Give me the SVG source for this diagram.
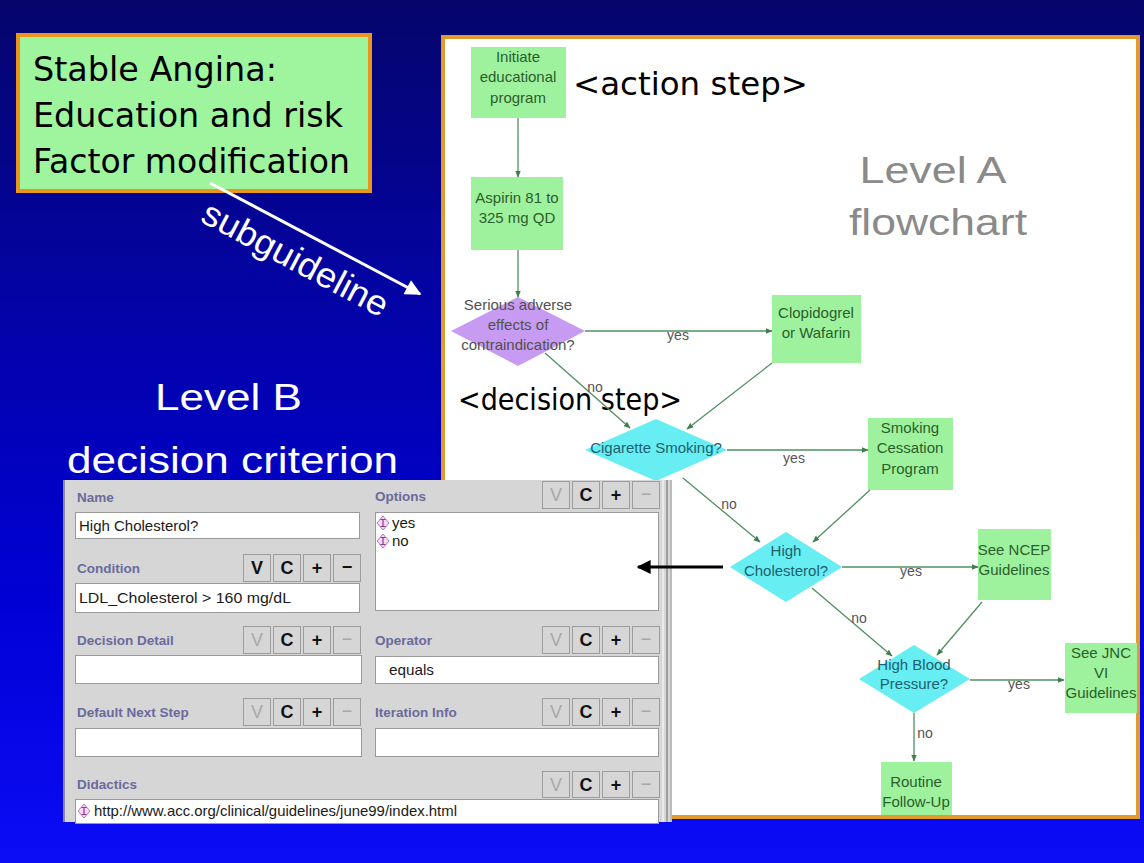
<svg xmlns="http://www.w3.org/2000/svg" width="1144" height="863" viewBox="0 0 1144 863">
<defs>
<linearGradient id="bg" x1="0" y1="0" x2="0" y2="1">
<stop offset="0" stop-color="#05056b"/>
<stop offset="0.35" stop-color="#0303a6"/>
<stop offset="0.7" stop-color="#0000d6"/>
<stop offset="1" stop-color="#0c0cf6"/>
</linearGradient>
<marker id="ag" viewBox="0 0 10 10" refX="9" refY="5" markerWidth="7" markerHeight="7" orient="auto" markerUnits="userSpaceOnUse">
<path d="M0,1 L10,5 L0,9 z" fill="#3f7f4f"/>
</marker>
<marker id="ab" viewBox="0 0 10 10" refX="9" refY="5" markerWidth="16" markerHeight="14" orient="auto" markerUnits="userSpaceOnUse">
<path d="M0,0 L10,5 L0,10 z" fill="#000"/>
</marker>
<marker id="aw" viewBox="0 0 10 10" refX="9" refY="5" markerWidth="20" markerHeight="16" orient="auto" markerUnits="userSpaceOnUse">
<path d="M0,0 L10,5 L0,10 z" fill="#fff"/>
</marker>
<style>
.box{fill:#9ef29e}
.nt{font-family:"Liberation Sans",Arial,sans-serif;font-size:15px;fill:#2b5e2b;text-anchor:middle}
.dt{font-family:"Liberation Sans",Arial,sans-serif;font-size:15px;fill:#1f5f6f;text-anchor:middle}
.pt{font-family:"Liberation Sans",Arial,sans-serif;font-size:15px;fill:#505050;text-anchor:middle}
.cl{font-family:"Liberation Sans",Arial,sans-serif;font-size:14px;fill:#555;text-anchor:middle}
.con{fill:none;stroke:#4f8f5f;stroke-width:1.3;marker-end:url(#ag)}
.big{font-family:"DejaVu Sans",Verdana,sans-serif;fill:#000}
.lab{font-family:"Liberation Sans",Arial,sans-serif;font-size:13.5px;font-weight:bold;fill:#6a6a9c}
.fld{fill:#fff;stroke:#9a9a9a;stroke-width:1}
.ft{font-family:"Liberation Sans",Arial,sans-serif;font-size:15px;fill:#1a1a1a}
.btn{fill:#d6d6d6;stroke:#9c9c9c;stroke-width:1}
.bon{font-family:"Liberation Sans",Arial,sans-serif;font-size:18px;font-weight:bold;fill:#111;text-anchor:middle}
.boff{font-family:"Liberation Sans",Arial,sans-serif;font-size:18px;fill:#a8a8a8;text-anchor:middle}
.ico{fill:#f3dcf3;stroke:#c070c0;stroke-width:1}
.icl{stroke:#8a3a8a;stroke-width:1.2;fill:none}
</style>
</defs>
<rect x="0" y="0" width="1144" height="863" fill="url(#bg)"/>

<!-- Title box -->
<g id="title">
<rect x="18" y="35" width="352" height="156" fill="#9ef59e" stroke="#e8961e" stroke-width="4"/>
<text class="big" x="33" y="81" font-size="33.5" fill="#0d200d" textLength="244" lengthAdjust="spacingAndGlyphs">Stable Angina:</text>
<text class="big" x="33" y="127" font-size="33.5" fill="#0d200d" textLength="310" lengthAdjust="spacingAndGlyphs">Education and risk</text>
<text class="big" x="33" y="173" font-size="33.5" fill="#0d200d" textLength="317" lengthAdjust="spacingAndGlyphs">Factor modification</text>
</g>

<!-- subguideline arrow -->
<g id="subguideline">
<line x1="210" y1="183" x2="420" y2="294" stroke="#fff" stroke-width="3" marker-end="url(#aw)"/>
<text transform="translate(199,221) rotate(28)" font-family="Liberation Sans, Arial, sans-serif" font-size="35" fill="#fff" textLength="206" lengthAdjust="spacingAndGlyphs">subguideline</text>
</g>

<!-- Level B caption -->
<g id="levelB-caption" font-family="Liberation Sans, Arial, sans-serif" fill="#fff">
<text x="155" y="410" font-size="37" textLength="147" lengthAdjust="spacingAndGlyphs">Level B</text>
<text x="67" y="473" font-size="37" textLength="331" lengthAdjust="spacingAndGlyphs">decision criterion</text>
</g>

<!-- Flowchart panel -->
<g id="flowchart-panel">
<rect x="443" y="37" width="695" height="780" fill="#fff" stroke="#e39a2c" stroke-width="4"/>
<text x="933" y="183" font-family="Liberation Sans, Arial, sans-serif" font-size="37" fill="#8a8a8a" text-anchor="middle" textLength="147" lengthAdjust="spacingAndGlyphs">Level A</text>
<text x="938" y="235" font-family="Liberation Sans, Arial, sans-serif" font-size="37" fill="#8a8a8a" text-anchor="middle" textLength="178" lengthAdjust="spacingAndGlyphs">flowchart</text>
<text class="big" x="573" y="95" font-size="32" textLength="235" lengthAdjust="spacingAndGlyphs">&lt;action step&gt;</text>
</g>

<!-- Nodes -->
<g id="n-initiate">
<rect class="box" x="471" y="47" width="95" height="71"/>
<text class="nt" x="518" y="62">Initiate</text>
<text class="nt" x="518" y="82">educational</text>
<text class="nt" x="518" y="103">program</text>
</g>
<g id="n-aspirin">
<rect class="box" x="471" y="177" width="92" height="73"/>
<text class="nt" x="517" y="203">Aspirin 81 to</text>
<text class="nt" x="517" y="223">325 mg QD</text>
</g>
<g id="n-serious">
<polygon points="518,297 585,331 518,366 451,331" fill="#c79bf2"/>
<text class="pt" x="518" y="310">Serious adverse</text>
<text class="pt" x="518" y="330">effects of</text>
<text class="pt" x="518" y="350">contraindication?</text>
</g>
<g id="n-clopidogrel">
<rect class="box" x="772" y="295" width="89" height="68"/>
<text class="nt" x="816" y="318">Clopidogrel</text>
<text class="nt" x="816" y="338">or Wafarin</text>
</g>
<text class="big" x="458" y="410" font-size="31" textLength="224" lengthAdjust="spacingAndGlyphs">&lt;decision step&gt;</text>
<g id="n-cigarette">
<polygon points="656,419 727,450 656,481 585,450" fill="#66eef2"/>
<text class="dt" x="656" y="453">Cigarette Smoking?</text>
</g>
<g id="n-cessation">
<rect class="box" x="868" y="418" width="85" height="72"/>
<text class="nt" x="910" y="433">Smoking</text>
<text class="nt" x="910" y="453">Cessation</text>
<text class="nt" x="910" y="474">Program</text>
</g>
<g id="n-cholesterol">
<polygon points="786,532 842,567 786,602 730,567" fill="#66eef2"/>
<text class="dt" x="786" y="556">High</text>
<text class="dt" x="786" y="576">Cholesterol?</text>
</g>
<g id="n-ncep">
<rect class="box" x="978" y="529" width="73" height="71"/>
<text class="nt" x="1014" y="555">See NCEP</text>
<text class="nt" x="1014" y="575">Guidelines</text>
</g>
<g id="n-hbp">
<polygon points="914,645 970,679 914,713 859,679" fill="#66eef2"/>
<text class="dt" x="914" y="670">High Blood</text>
<text class="dt" x="914" y="689">Pressure?</text>
</g>
<g id="n-jnc">
<rect class="box" x="1065" y="643" width="72" height="70"/>
<text class="nt" x="1101" y="658">See JNC</text>
<text class="nt" x="1101" y="678">VI</text>
<text class="nt" x="1101" y="698">Guidelines</text>
</g>
<g id="n-routine">
<rect class="box" x="881" y="762" width="71" height="53"/>
<text class="nt" x="916" y="787">Routine</text>
<text class="nt" x="916" y="807">Follow-Up</text>
</g>

<!-- Level B panel -->
<g id="levelB-panel">
<rect x="63" y="480" width="609" height="342" fill="#d6d6d6"/>
<line x1="64" y1="480" x2="64" y2="822" stroke="#8a8a9a" stroke-width="2"/>
<line x1="663" y1="480" x2="663" y2="822" stroke="#f0f0f0" stroke-width="1.5"/>
<line x1="667" y1="480" x2="667" y2="822" stroke="#8c8c8c" stroke-width="1.5"/>
<line x1="671" y1="480" x2="671" y2="822" stroke="#a0a0a0" stroke-width="1"/>

<text class="lab" x="77" y="502">Name</text>
<text class="lab" x="375" y="501">Options</text>
<text class="lab" x="77" y="573">Condition</text>
<text class="lab" x="77" y="645">Decision Detail</text>
<text class="lab" x="375" y="645">Operator</text>
<text class="lab" x="77" y="717">Default Next Step</text>
<text class="lab" x="375" y="717">Iteration Info</text>
<text class="lab" x="77" y="789">Didactics</text>

<rect class="fld" x="75.5" y="512.5" width="284" height="26"/>
<text class="ft" x="79" y="531">High Cholesterol?</text>
<rect class="fld" x="75.5" y="583.5" width="284" height="29"/>
<text class="ft" x="79" y="603" textLength="212" lengthAdjust="spacingAndGlyphs">LDL_Cholesterol &gt; 160 mg/dL</text>
<rect class="fld" x="75.5" y="655.5" width="286" height="28"/>
<rect class="fld" x="75.5" y="728.5" width="286" height="28"/>
<rect class="fld" x="75.5" y="799.5" width="583" height="24"/>
<rect class="fld" x="375.5" y="512.5" width="283" height="98"/>
<rect class="fld" x="375.5" y="656.5" width="283" height="27"/>
<text class="ft" x="389" y="675" textLength="45" lengthAdjust="spacingAndGlyphs">equals</text>
<rect class="fld" x="375.5" y="728.5" width="283" height="28"/>

<g id="icon-yes">
<polygon class="ico" points="383,516 389,523 383,530 377,523"/>
<path class="icl" d="M380.5,519.5 H385.5 M383,519.5 V526.5 M380.5,526.5 H385.5"/>
</g>
<text class="ft" x="392" y="528" font-size="14">yes</text>
<g id="icon-no">
<polygon class="ico" points="383,534 389,541 383,548 377,541"/>
<path class="icl" d="M380.5,537.5 H385.5 M383,537.5 V544.5 M380.5,544.5 H385.5"/>
</g>
<text class="ft" x="392" y="546" font-size="14">no</text>
<g id="icon-url">
<polygon class="ico" points="84,804 90,811 84,818 78,811"/>
<path class="icl" d="M81.5,807.5 H86.5 M84,807.5 V814.5 M81.5,814.5 H86.5"/>
</g>
<text class="ft" x="94" y="816" font-size="13" textLength="363" lengthAdjust="spacingAndGlyphs">http://www.acc.org/clinical/guidelines/june99/index.html</text>

<g id="btn-options">
<rect class="btn" x="542.5" y="481.5" width="27" height="27"/><text class="boff" x="556" y="501">V</text>
<rect class="btn" x="572.5" y="481.5" width="27" height="27"/><text class="bon" x="586" y="501">C</text>
<rect class="btn" x="602.5" y="481.5" width="27" height="27"/><text class="bon" x="616" y="501">+</text>
<rect class="btn" x="632.5" y="481.5" width="27" height="27"/><text class="boff" x="646" y="500">−</text>
</g>
<g id="btn-condition">
<rect class="btn" x="243.5" y="554.5" width="27" height="27"/><text class="bon" x="257" y="574">V</text>
<rect class="btn" x="273.5" y="554.5" width="27" height="27"/><text class="bon" x="287" y="574">C</text>
<rect class="btn" x="303.5" y="554.5" width="27" height="27"/><text class="bon" x="317" y="574">+</text>
<rect class="btn" x="333.5" y="554.5" width="27" height="27"/><text class="bon" x="347" y="573">−</text>
</g>
<g id="btn-detail">
<rect class="btn" x="243.5" y="626.5" width="27" height="27"/><text class="boff" x="257" y="646">V</text>
<rect class="btn" x="273.5" y="626.5" width="27" height="27"/><text class="bon" x="287" y="646">C</text>
<rect class="btn" x="303.5" y="626.5" width="27" height="27"/><text class="bon" x="317" y="646">+</text>
<rect class="btn" x="333.5" y="626.5" width="27" height="27"/><text class="boff" x="347" y="645">−</text>
</g>
<g id="btn-operator">
<rect class="btn" x="542.5" y="626.5" width="27" height="27"/><text class="boff" x="556" y="646">V</text>
<rect class="btn" x="572.5" y="626.5" width="27" height="27"/><text class="bon" x="586" y="646">C</text>
<rect class="btn" x="602.5" y="626.5" width="27" height="27"/><text class="bon" x="616" y="646">+</text>
<rect class="btn" x="632.5" y="626.5" width="27" height="27"/><text class="boff" x="646" y="645">−</text>
</g>
<g id="btn-default">
<rect class="btn" x="243.5" y="698.5" width="27" height="27"/><text class="boff" x="257" y="718">V</text>
<rect class="btn" x="273.5" y="698.5" width="27" height="27"/><text class="bon" x="287" y="718">C</text>
<rect class="btn" x="303.5" y="698.5" width="27" height="27"/><text class="bon" x="317" y="718">+</text>
<rect class="btn" x="333.5" y="698.5" width="27" height="27"/><text class="boff" x="347" y="717">−</text>
</g>
<g id="btn-iteration">
<rect class="btn" x="542.5" y="698.5" width="27" height="27"/><text class="boff" x="556" y="718">V</text>
<rect class="btn" x="572.5" y="698.5" width="27" height="27"/><text class="bon" x="586" y="718">C</text>
<rect class="btn" x="602.5" y="698.5" width="27" height="27"/><text class="bon" x="616" y="718">+</text>
<rect class="btn" x="632.5" y="698.5" width="27" height="27"/><text class="boff" x="646" y="717">−</text>
</g>
<g id="btn-didactics">
<rect class="btn" x="542.5" y="771.5" width="27" height="26"/><text class="boff" x="556" y="791">V</text>
<rect class="btn" x="572.5" y="771.5" width="27" height="26"/><text class="bon" x="586" y="791">C</text>
<rect class="btn" x="602.5" y="771.5" width="27" height="26"/><text class="bon" x="616" y="791">+</text>
<rect class="btn" x="632.5" y="771.5" width="27" height="26"/><text class="boff" x="646" y="790">−</text>
</g>
</g>

<!-- Connectors -->
<g id="connectors">
<line class="con" x1="518" y1="118" x2="518" y2="177"/>
<line class="con" x1="518" y1="250" x2="518" y2="297"/>
<line class="con" x1="585" y1="331" x2="772" y2="331"/>
<line class="con" x1="545" y1="353" x2="630" y2="428"/>
<line class="con" x1="772" y1="363" x2="687" y2="429"/>
<line class="con" x1="727" y1="450" x2="868" y2="450"/>
<line class="con" x1="683" y1="478" x2="760" y2="542"/>
<line class="con" x1="870" y1="490" x2="813" y2="542"/>
<line class="con" x1="842" y1="567" x2="978" y2="567"/>
<line class="con" x1="812" y1="588" x2="892" y2="656"/>
<line class="con" x1="982" y1="602" x2="937" y2="655"/>
<line class="con" x1="970" y1="680" x2="1064" y2="680"/>
<line class="con" x1="914" y1="713" x2="914" y2="761"/>
<text class="cl" x="678" y="340">yes</text>
<text class="cl" x="595" y="392">no</text>
<text class="cl" x="794" y="463">yes</text>
<text class="cl" x="729" y="509">no</text>
<text class="cl" x="911" y="576">yes</text>
<text class="cl" x="859" y="623">no</text>
<text class="cl" x="1019" y="689">yes</text>
<text class="cl" x="925" y="738">no</text>
<line x1="723" y1="567" x2="638" y2="567" stroke="#000" stroke-width="3" marker-end="url(#ab)"/>
</g>
</svg>
